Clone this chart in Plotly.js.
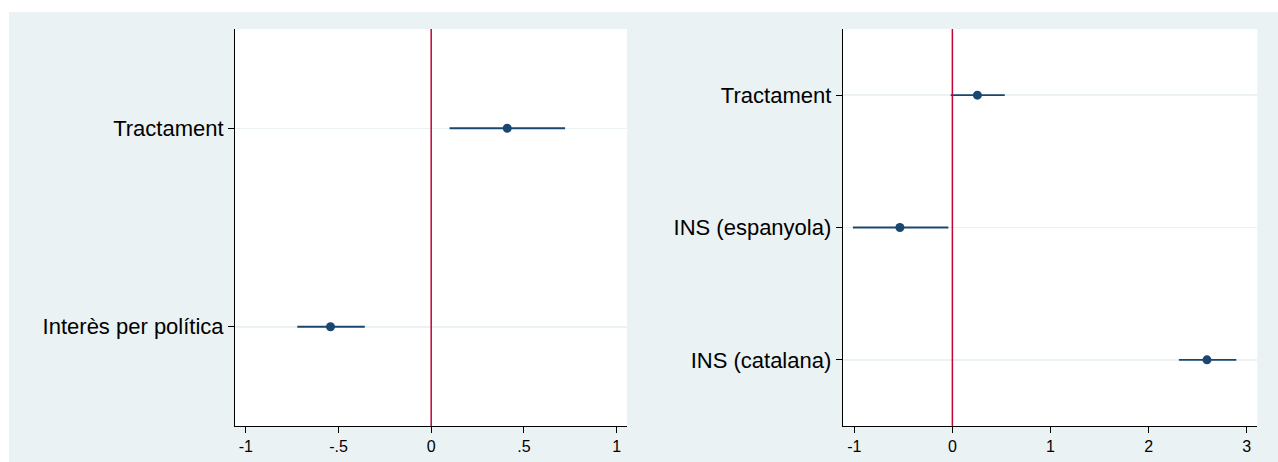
<!DOCTYPE html>
<html>
<head>
<meta charset="utf-8">
<script src="https://cdn.plot.ly/plotly-3.0.1.min.js"></script>
<style>html,body{margin:0;padding:0;background:#fff}#chart{width:1278px;height:462px}</style>
</head>
<body>
<div id="chart"></div>
<script>
// Left panel
const leftCategories = ["Tractament", "Interès per política"];
const leftEstimate = [0.41, -0.543];
const leftLower = [0.099, -0.722];
const leftUpper = [0.722, -0.358];
const leftTickVals = [-1, -0.5, 0, 0.5, 1];
const leftTickText = ["-1", "-.5", "0", ".5", "1"];

// Right panel
const rightCategories = ["Tractament", "INS (espanyola)", "INS (catalana)"];
const rightEstimate = [0.255, -0.535, 2.595];
const rightLower = [-0.017, -1.014, 2.309];
const rightUpper = [0.534, -0.041, 2.894];
const rightTickVals = [-1, 0, 1, 2, 3];
const rightTickText = ["-1", "0", "1", "2", "3"];

const W = 1278, H = 462;
const navy = "#1a476f";
const bg = "#eaf2f3";

function pos(cats) { return cats.map((c, i) => cats.length - 1 - i); }

function trace(cats, est, lo, hi, xa, ya) {
  return {
    type: "scatter", mode: "markers",
    x: est, y: pos(cats), xaxis: xa, yaxis: ya,
    marker: { color: navy, size: 9 },
    error_x: {
      type: "data", symmetric: false,
      array: est.map((e, i) => hi[i] - e),
      arrayminus: est.map((e, i) => e - lo[i]),
      color: navy, thickness: 1.8, width: 0
    },
    hoverinfo: "x+y", showlegend: false
  };
}

const data = [
  trace(leftCategories, leftEstimate, leftLower, leftUpper, "x", "y"),
  trace(rightCategories, rightEstimate, rightLower, rightUpper, "x2", "y2")
];

const yDom = [(H - 426) / H, (H - 29) / H];
const font = { family: "Liberation Sans, Arial, sans-serif", color: "#000" };

function xaxis(dom, range, tv, tt, anchor) {
  return {
    domain: dom, range: range, anchor: anchor,
    tickmode: "array", tickvals: tv, ticktext: tt,
    ticks: "outside", ticklen: 6, tickcolor: "#000", tickwidth: 1,
    showline: true, linecolor: "#000", linewidth: 1,
    showgrid: false, zeroline: false,
    tickfont: Object.assign({ size: 16 }, font),
    fixedrange: true
  };
}
function yaxis(cats, anchor) {
  return {
    domain: yDom, range: [-0.5, cats.length - 0.5], anchor: anchor,
    tickmode: "array", tickvals: pos(cats), ticktext: cats,
    ticks: "outside", ticklen: 6, tickcolor: "#000", tickwidth: 1,
    showline: true, linecolor: "#000", linewidth: 1,
    showgrid: true, gridcolor: bg, gridwidth: 1.5,
    zeroline: false,
    tickfont: Object.assign({ size: 22 }, font),
    fixedrange: true
  };
}

const layout = {
  width: W, height: H,
  margin: { l: 0, r: 0, t: 0, b: 0 },
  paper_bgcolor: "#ffffff",
  plot_bgcolor: "#ffffff",
  font: font,
  xaxis: xaxis([235 / W, 627 / W], [-1.058, 1.056], leftTickVals, leftTickText, "y"),
  yaxis: yaxis(leftCategories, "x"),
  xaxis2: xaxis([842.7 / W, 1257.3 / W], [-1.118, 3.108], rightTickVals, rightTickText, "y2"),
  yaxis2: yaxis(rightCategories, "x2"),
  shapes: [
    { type: "rect", xref: "paper", yref: "paper", x0: 9 / W, x1: 1, y0: 0, y1: (H - 12) / H,
      fillcolor: bg, line: { width: 0 }, layer: "below" },
    { type: "rect", xref: "paper", yref: "paper", x0: 235 / W, x1: 627 / W, y0: yDom[0], y1: yDom[1],
      fillcolor: "#ffffff", line: { width: 0 }, layer: "below" },
    { type: "rect", xref: "paper", yref: "paper", x0: 842.7 / W, x1: 1257.3 / W, y0: yDom[0], y1: yDom[1],
      fillcolor: "#ffffff", line: { width: 0 }, layer: "below" },
    { type: "line", xref: "x", yref: "y domain", x0: 0, x1: 0, y0: 0, y1: 1,
      line: { color: "#c10534", width: 1.5 }, layer: "above" },
    { type: "line", xref: "x2", yref: "y2 domain", x0: 0, x1: 0, y0: 0, y1: 1,
      line: { color: "#c10534", width: 1.5 }, layer: "above" }
  ]
};

Plotly.newPlot("chart", data, layout, { displayModeBar: false, staticPlot: true });
</script>
</body>
</html>
